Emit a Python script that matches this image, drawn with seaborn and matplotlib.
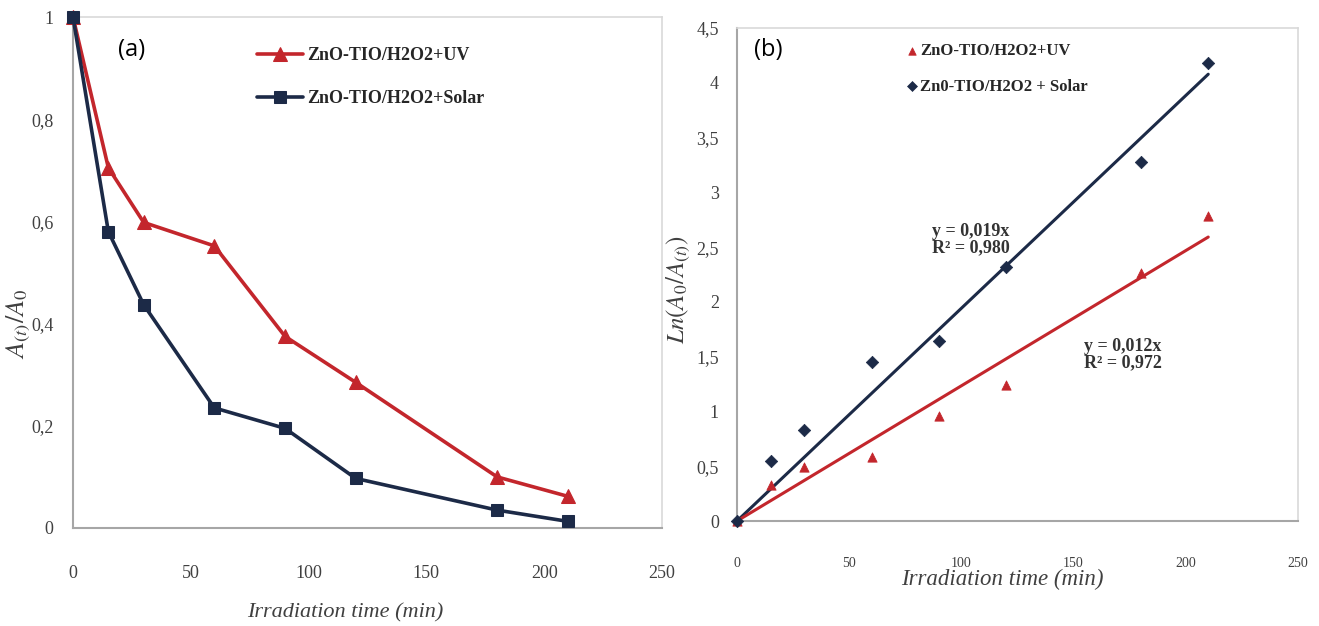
import numpy as np
import pandas as pd
import matplotlib
matplotlib.use("Agg")
import matplotlib.pyplot as plt
import seaborn as sns

# ---------------- data ----------------
time_min = [0, 15, 30, 60, 90, 120, 180, 210]
ratio_uv = [1.0, 0.705, 0.598, 0.552, 0.375, 0.285, 0.100, 0.062]
ratio_solar = [1.0, 0.580, 0.437, 0.235, 0.195, 0.097, 0.035, 0.013]
ln_uv = [0.0, 0.33, 0.49, 0.58, 0.96, 1.24, 2.26, 2.78]
ln_solar = [0.0, 0.55, 0.83, 1.45, 1.64, 2.32, 3.28, 4.18]
label_uv = "ZnO-TIO/H2O2+UV"
label_solar_a = "ZnO-TIO/H2O2+Solar"
label_solar_b = "Zn0-TIO/H2O2 + Solar"
eq_solar = "y = 0,019x\nR² = 0,980"
eq_uv = "y = 0,012x\nR² = 0,972"
xticks = [0, 50, 100, 150, 200, 250]
yticks_a = [0, 0.2, 0.4, 0.6, 0.8, 1.0]
yticks_b = [0, 0.5, 1, 1.5, 2, 2.5, 3, 3.5, 4, 4.5]

RED = "#c3262c"
NAVY = "#1c2a47"
AXC = "#a6a6a6"
FRAME = "#d9d9d9"
TXT = "#404040"


def comma(v):
    s = ("%g" % v)
    return s.replace(".", ",")


sns.set_theme(style="white")
plt.rcParams["font.family"] = ["Liberation Serif", "DejaVu Serif"]
plt.rcParams["mathtext.fontset"] = "stix"

W, H = 1319, 626
fig = plt.figure(figsize=(W / 100, H / 100), dpi=100)
ax1 = fig.add_axes([73 / W, 1 - 528 / H, 589 / W, 511 / H])
ax2 = fig.add_axes([737 / W, 1 - 521 / H, 561 / W, 493 / H])

df = pd.DataFrame({"t": time_min, "uv": ratio_uv, "solar": ratio_solar,
                   "ln_uv": ln_uv, "ln_solar": ln_solar})

# ---------------- panel (a) ----------------
sns.lineplot(data=df, x="t", y="uv", ax=ax1, color=RED, lw=2.6, marker="^",
             markersize=10, markeredgecolor=RED, label=label_uv, clip_on=False, zorder=3)
sns.lineplot(data=df, x="t", y="solar", ax=ax1, color=NAVY, lw=2.6, marker="s",
             markersize=8, markeredgecolor=NAVY, label=label_solar_a, clip_on=False, zorder=4)
ax1.set_xlim(0, 250)
ax1.set_ylim(0, 1)
ax1.set_xticks(xticks)
ax1.set_xticklabels([str(v) for v in xticks])
ax1.set_yticks(yticks_a)
ax1.set_yticklabels([comma(v) for v in yticks_a])
ax1.tick_params(axis="x", direction="out", length=5, width=1, color=AXC,
                labelcolor=TXT, labelsize=13, pad=22)
ax1.tick_params(axis="y", direction="out", length=5, width=1, color=AXC,
                labelcolor=TXT, labelsize=13, pad=9)
ax1.set_xlabel("Irradiation time (min)", fontstyle="italic", fontsize=16,
               color=TXT)
ax1.xaxis.set_label_coords(0.463, -0.148)
ax1.set_ylabel(r"$A_{(t)}/A_0$", fontsize=19, color=TXT)
ax1.yaxis.set_label_coords(-0.068, 0.40)
ax1.legend(loc="upper left", bbox_to_anchor=(0.284, 0.973), frameon=False,
           handlelength=2.6, handletextpad=0.2, labelspacing=1.45,
           prop={"family": "Liberation Serif", "weight": "bold", "size": 13})
ax1.text(0.077, 0.935, "(a)", transform=ax1.transAxes, fontsize=17,
         family="Open Sans", color="black", va="center")

# ---------------- panel (b) ----------------
sns.scatterplot(data=df, x="t", y="ln_uv", ax=ax2, marker="^", s=45, color=RED,
                edgecolor=RED, label=label_uv, clip_on=False, zorder=4)
sns.scatterplot(data=df, x="t", y="ln_solar", ax=ax2, marker="D", s=40, color=NAVY,
                edgecolor=NAVY, label=label_solar_b, clip_on=False, zorder=4)
t_arr = np.array(time_min, dtype=float)
k_uv = np.sum(t_arr * np.array(ln_uv)) / np.sum(t_arr ** 2)
k_solar = np.sum(t_arr * np.array(ln_solar)) / np.sum(t_arr ** 2)
fit = pd.DataFrame({"t": [0.0, max(time_min)]})
fit["uv"] = k_uv * fit["t"]
fit["solar"] = k_solar * fit["t"]
sns.lineplot(data=fit, x="t", y="solar", ax=ax2, color=NAVY, lw=2.2, legend=False, zorder=3)
sns.lineplot(data=fit, x="t", y="uv", ax=ax2, color=RED, lw=2.2, legend=False, zorder=3)
ax2.set_xlim(0, 250)
ax2.set_ylim(0, 4.5)
ax2.set_xticks(xticks)
ax2.set_xticklabels([str(v) for v in xticks])
ax2.set_yticks(yticks_b)
ax2.set_yticklabels([comma(v) for v in yticks_b])
ax2.tick_params(axis="x", direction="out", length=5, width=1, color=AXC,
                labelcolor=TXT, labelsize=10, pad=21)
ax2.tick_params(axis="y", direction="out", length=5, width=1, color=AXC,
                labelcolor=TXT, labelsize=13, pad=8)
ax2.set_xlabel("Irradiation time (min)", fontstyle="italic", fontsize=16.5,
               color=TXT)
ax2.xaxis.set_label_coords(0.473, -0.097)
ax2.set_ylabel(r"$Ln(A_0/A_{(t)})$", fontsize=18, color=TXT)
ax2.yaxis.set_label_coords(-0.08, 0.47)
ax2.legend(loc="upper left", bbox_to_anchor=(0.276, 0.999), frameon=False,
           handlelength=0.6, handletextpad=0.2, labelspacing=1.15, markerscale=0.8,
           prop={"family": "Liberation Serif", "weight": "bold", "size": 12})
ax2.text(104, 2.57, eq_solar, ha="center", va="center", fontsize=13,
         fontweight="bold", color="#333333", linespacing=0.95)
ax2.text(172, 1.52, eq_uv, ha="center", va="center", fontsize=13,
         fontweight="bold", color="#333333", linespacing=0.95)
ax2.text(0.03, 0.955, "(b)", transform=ax2.transAxes, fontsize=17,
         family="Open Sans", color="black", va="center")

for ax in (ax1, ax2):
    ax.set_facecolor("white")
    for side in ("left", "bottom"):
        ax.spines[side].set_color(AXC)
        ax.spines[side].set_linewidth(1.5)
    for side in ("top", "right"):
        ax.spines[side].set_color(FRAME)
        ax.spines[side].set_linewidth(1.2)
    ax.grid(False)

fig.savefig("out.png", dpi=100, facecolor="white")
